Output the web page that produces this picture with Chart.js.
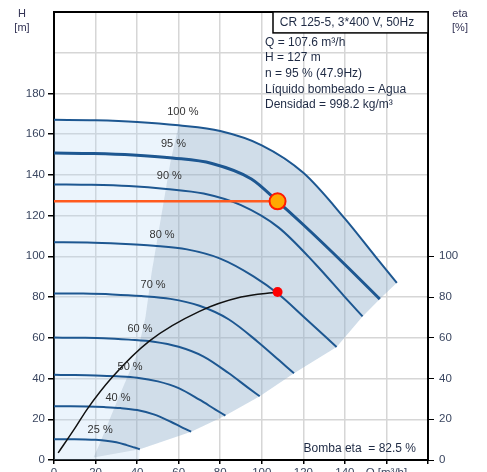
<!DOCTYPE html>
<html><head><meta charset="utf-8">
<script src="https://cdn.jsdelivr.net/npm/chart.js@4.4.1/dist/chart.umd.min.js"></script>
<style>html,body{margin:0;padding:0;background:#fff;}#wrap{width:487px;height:472px;position:relative;}</style>
</head><body><div id="wrap"><canvas id="c" width="487" height="472"></canvas></div>
<script>
// ---- data (Q in m3/h, H in m, eta in %) ----
const xTicks = [0, 20, 40, 60, 80, 100, 120, 140, 160, 180];
const speedLabels = ['100 %', '95 %', '90 %', '80 %', '70 %', '60 %', '50 %', '40 %', '25 %'];
const labelQ = [62, 57.5, 55.5, 52, 47.7, 41.4, 36.6, 30.8, 22.2];
const labelH = [170.7, 155, 139.5, 110.7, 85.9, 64.3, 45.9, 30.7, 14.6];

const q100 = [0, 20, 40, 60, 80, 100, 120, 140, 155, 165];
const h100 = [167, 166.8, 166, 164.3, 161.5, 154.5, 141, 118.5, 99.5, 87];
const q95 = [0, 19, 38, 57, 76, 95, 107.6, 120, 140, 156.8];
const h95 = [150.7, 150.5, 149.8, 148.3, 145.6, 138, 127, 115.5, 96, 79];
const q90 = [0, 18, 36, 54, 72, 90, 108, 126, 139.5, 148.5];
const h90 = [135.3, 135.1, 134.5, 133.1, 130.8, 125.1, 114.2, 96, 80.6, 70.5];
const q80 = [0, 16, 32, 48, 64, 80, 96, 108, 120, 136];
const h80 = [106.9, 106.8, 106.2, 105.2, 103.4, 98.9, 90.2, 81.5, 70.5, 55.5];
const q70 = [0, 14, 28, 42, 56, 70, 84, 98, 108.5, 115.5];
const h70 = [81.8, 81.7, 81.3, 80.5, 79.1, 75.7, 69.1, 58.1, 48.8, 42.6];
const q60 = [0, 12, 24, 36, 48, 60, 72, 84, 93, 99];
const h60 = [60.1, 60, 59.8, 59.1, 58.1, 55.6, 50.8, 42.7, 35.8, 31.3];
const q50 = [0, 10, 20, 30, 40, 50, 60, 70, 77.5, 82.5];
const h50 = [41.8, 41.7, 41.5, 41.1, 40.4, 38.6, 35.3, 29.6, 24.9, 21.8];
const q40 = [0, 8, 16, 24, 32, 40, 48, 56, 62, 66];
const h40 = [26.4, 26.4, 26.3, 26, 25.5, 24.5, 22.4, 18.9, 15.8, 13.9];
const q25 = [0, 5, 10, 15, 20, 25, 30, 35, 38.8, 41.3];
const h25 = [10.2, 10.2, 10.2, 10.1, 9.9, 9.5, 8.7, 7.3, 6.1, 5.3];

// efficiency curve (right axis)
const etaQ = [2, 10, 16, 28, 46, 70, 90, 107.6];
const etaVal = [3.5, 15.5, 25, 40.6, 58.5, 73, 80, 82.5];

// duty point
const dutyQ = 107.6, dutyH = 127, dutyEta = 82.5;

// operating range outline
const rangeLeftQ = [19, 22, 30, 40, 44, 47, 52, 56];
const rangeLeftH = [1.2, 8, 28, 52, 70, 92, 122, 146];
const rangeEndQ = [19, 41.3, 66, 82.5, 99, 115.5, 136, 148.5, 156.8, 165];
const rangeEndH = [1.2, 5.3, 13.9, 21.8, 31.3, 42.6, 55.5, 70.5, 79, 87];

const infoLines = ['Q = 107.6 m\u00b3/h', 'H = 127 m', 'n = 95 % (47.9Hz)', 'L\u00edquido bombeado = Agua', 'Densidad = 998.2 kg/m\u00b3'];
const titleText = 'CR 125-5, 3*400 V, 50Hz';
const effText = 'Bomba eta  = 82.5 %';

// ---- build ----
const pts = (qs, hs) => qs.map((q, i) => ({x: q, y: hs[i]}));
const curveColor = '#1d5791';
const FONT = '"Liberation Sans", Arial, sans-serif';
const NONE = 'rgba(0,0,0,0)';

const datasets = [];
datasets.push({data: [{x: dutyQ, y: dutyEta}], yAxisID: 'y2', showLine: false, pointRadius: 5, pointBackgroundColor: '#ff0000', pointBorderWidth: 0});
datasets.push({data: [{x: dutyQ, y: dutyH}], showLine: false, pointRadius: 8, pointBackgroundColor: '#ffa800', pointBorderColor: '#ff1a00', pointBorderWidth: 2});
datasets.push({data: [{x: 0, y: dutyH}, {x: dutyQ, y: dutyH}], borderColor: '#ff5a1e', borderWidth: 2.5, pointRadius: 0});
datasets.push({data: pts(etaQ, etaVal), yAxisID: 'y2', borderColor: '#111', borderWidth: 1.5, pointRadius: 0, cubicInterpolationMode: 'monotone'});

const curves = [[q100, h100, 2], [q95, h95, 3], [q90, h90, 2], [q80, h80, 2], [q70, h70, 2], [q60, h60, 2], [q50, h50, 2], [q40, h40, 2], [q25, h25, 2]];
curves.forEach(([qs, hs, w]) => datasets.push({data: pts(qs, hs), borderColor: curveColor, borderWidth: w, pointRadius: 0, cubicInterpolationMode: 'monotone'}));

// dark operating range
const darkUpper = pts(rangeLeftQ, rangeLeftH).concat(pts(q100.slice(3), h100.slice(3)));
const idxDarkLower = datasets.length + 1;
datasets.push({data: darkUpper, borderColor: NONE, borderWidth: 0, pointRadius: 0, fill: idxDarkLower, backgroundColor: 'rgba(110,135,165,0.22)'});
datasets.push({data: pts(rangeEndQ, rangeEndH), borderColor: NONE, borderWidth: 0, pointRadius: 0, fill: false});
// light area
const idxLightLower = datasets.length + 1;
datasets.push({data: pts(q100, h100), borderColor: NONE, borderWidth: 0, pointRadius: 0, cubicInterpolationMode: 'monotone', fill: idxLightLower, backgroundColor: 'rgba(180,215,245,0.27)'});
datasets.push({data: [{x: 0, y: 0}, {x: 41, y: 0}].concat(pts(rangeEndQ.slice(1), rangeEndH.slice(1))), borderColor: NONE, borderWidth: 0, pointRadius: 0, fill: false});

const deco = {
  id: 'deco',
  afterDatasetsDraw(chart) {
    const {ctx, chartArea: a, scales: {x, y}} = chart;
    ctx.save();
    ctx.fillStyle = '#333';
    ctx.textAlign = 'center';
    ctx.textBaseline = 'middle';
    ctx.font = '11px ' + FONT;
    speedLabels.forEach((t, i) => ctx.fillText(t, x.getPixelForValue(labelQ[i]), y.getPixelForValue(labelH[i])));
    // top border
    ctx.strokeStyle = '#000';
    ctx.lineWidth = 2;
    ctx.beginPath(); ctx.moveTo(a.left - 1, a.top); ctx.lineTo(a.right + 1, a.top); ctx.stroke();
    // title box
    ctx.fillStyle = '#fff';
    ctx.fillRect(273, a.top, a.right - 273, 21);
    ctx.lineWidth = 1.5;
    ctx.strokeRect(273, a.top, a.right - 273, 21);
    ctx.fillStyle = '#1e2a44';
    ctx.font = '12px ' + FONT;
    ctx.fillText(titleText, 347, a.top + 10.5);
    ctx.textAlign = 'left';
    infoLines.forEach((t, i) => ctx.fillText(t, 265, 42.5 + i * 15.6));
    ctx.textAlign = 'right';
    ctx.fillText(effText, 416, 449);
    // axis titles
    ctx.textAlign = 'center';
    ctx.font = '11px ' + FONT;
    ctx.fillStyle = '#335';
    ctx.fillText('H', 22, 14); ctx.fillText('[m]', 22, 28);
    ctx.fillText('eta', 460, 14); ctx.fillText('[%]', 460, 28);
    ctx.restore();
  }
};

const tickFont = {family: FONT, size: 11.5};
new Chart(document.getElementById('c'), {
  type: 'line',
  data: {datasets},
  options: {
    responsive: false, animation: false, devicePixelRatio: 1,
    layout: {padding: {top: 8, left: 0, right: 0, bottom: 0}},
    plugins: {legend: {display: false}, tooltip: {enabled: false}, filler: {propagate: false, drawTime: 'beforeDatasetsDraw'}},
    elements: {line: {tension: 0}},
    scales: {
      x: {type: 'linear', min: 0, max: 180,
        afterBuildTicks: s => { s.ticks = xTicks.map(v => ({value: v})); },
        afterFit: s => { s.height = 12; },
        ticks: {autoSkip: false, maxRotation: 0, padding: 2, color: '#3a4660', font: tickFont, callback: v => v === 160 ? 'Q [m\u00b3/h]' : (v === 180 ? '' : String(v))},
        grid: {color: '#d6d6d6', lineWidth: 1.5, tickLength: 4, tickColor: '#000'},
        border: {color: '#000', width: 2}},
      y: {type: 'linear', position: 'left', min: 0, max: 220,
        ticks: {stepSize: 20, padding: 3, color: '#3a4660', font: tickFont, callback: v => v > 180 ? '' : String(v)},
        afterFit: s => { s.width = 54; },
        grid: {color: '#d6d6d6', lineWidth: 1.5, tickLength: 6, tickColor: c => (c.tick && c.tick.value > 180) ? NONE : '#000'},
        border: {color: '#000', width: 2}},
      y2: {type: 'linear', position: 'right', min: 0, max: 220,
        ticks: {stepSize: 20, padding: 5, color: '#3a4660', font: tickFont, callback: v => v > 100 ? '' : String(v)},
        afterFit: s => { s.width = 59; },
        grid: {drawOnChartArea: false, tickLength: 6, color: '#000', tickColor: c => (c.tick && c.tick.value > 100) ? NONE : '#000'},
        border: {color: '#000', width: 2}}
    }
  },
  plugins: [deco]
});
</script></body></html>
